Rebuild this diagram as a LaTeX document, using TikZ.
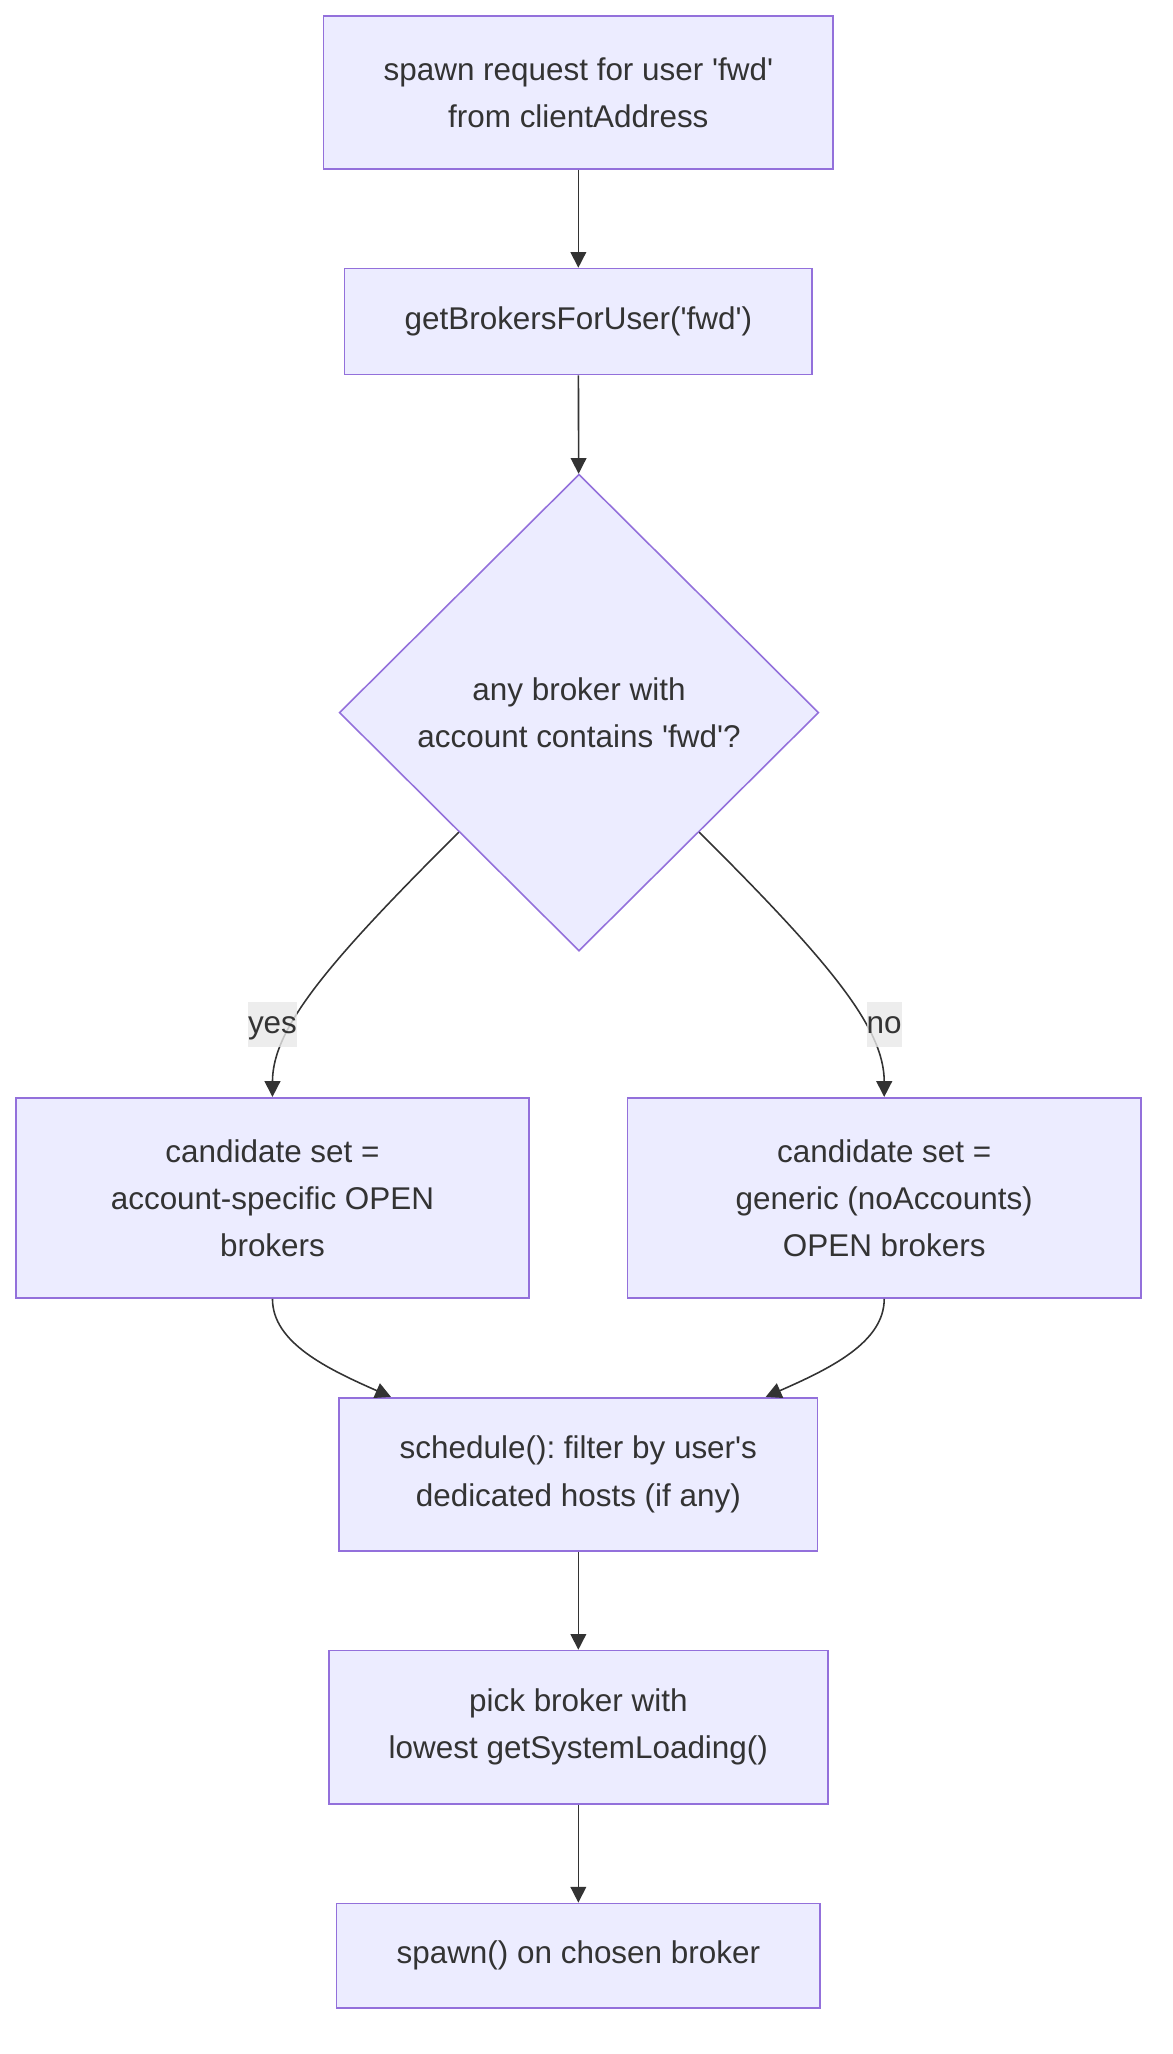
\documentclass[tikz,border=0pt]{standalone}
\usepackage{fontspec}
\setmainfont{Liberation Sans}
\usetikzlibrary{arrows.meta, shapes.geometric}
\definecolor{nodefill}{HTML}{ECECFF}
\definecolor{nodeline}{HTML}{9370DB}
\definecolor{inkgray}{HTML}{333333}
\definecolor{labelfill}{HTML}{E8E8E8}
\newcommand{\q}{\textquotesingle}
\frenchspacing
\tikzset{
	flow chart/.cd,
	link/.style = {
		draw = inkgray,
		line width = 0.6pt,
		-{Triangle[length = 6pt, width = 6pt]}
	},
}

\begin{document}
\begin{tikzpicture}[
		x = 0.5pt, y = -0.5pt,
		every node/.style = {
			text = inkgray,
			font = \fontsize{12}{18}\selectfont
		},
		process/.style = {
			draw = nodeline,
			fill = nodefill,
			line width = 0.6pt,
			align = center,
			inner sep = 0pt
		},
		decision/.style = {
			process,
			diamond,
			minimum width = 183pt,
			minimum height = 182pt
		},
		edgelabel/.style = {
			fill = labelfill,
			fill opacity = 0.8,
			text opacity = 1,
			inner xsep = 0pt,
			inner ysep = 0pt,
			text height = 12pt,
			text depth = 5pt
		}]
		\useasboundingbox (0, 0) rectangle (895, 1568);
		\node[process, minimum width = 194.5pt, minimum height = 58.5pt] (request) at (441.5, 70.5) {spawn request for user \q fwd\q\\from clientAddress};
		\node[process, minimum width = 178.5pt, minimum height = 40.5pt] (getbrokers) at (441.5, 245.5) {getBrokersForUser(\q fwd\q)};
		\node[decision] (anybroker) at (442, 544) {any broker with\\account contains \q fwd\q?};
		\node[process, minimum width = 196pt, minimum height = 76.5pt] (specific) at (208, 914.5) {candidate set =\\account-specific OPEN\\brokers};
		\node[process, minimum width = 196pt, minimum height = 76.5pt] (generic) at (675, 914.5) {candidate set =\\generic (noAccounts)\\OPEN brokers};
		\node[process, minimum width = 182.5pt, minimum height = 58.5pt] (schedule) at (441.5, 1125.5) {schedule(): filter by user\q s\\dedicated hosts (if any)};
		\node[process, minimum width = 190.5pt, minimum height = 58.5pt] (pick) at (441.5, 1318.5) {pick broker with\\lowest getSystemLoading()};
		\node[process, minimum width = 184.5pt, minimum height = 40pt] (spawn) at (441.5, 1493) {spawn() on chosen broker};
		\draw[flow chart/link] (request) -- (getbrokers);
		\draw[flow chart/link] (getbrokers) -- (anybroker);
		\draw[flow chart/link] (anybroker.south west) .. controls (250, 735) and (208, 785) .. (specific.north);
		\draw[flow chart/link] (anybroker.south east) .. controls (634, 735) and (675, 785) .. (generic.north);
		\node[edgelabel] (yes) at (208, 782) {yes};
		\node[edgelabel] (no) at (675, 782) {no};
		\draw[flow chart/link] (specific.south) .. controls (208, 1025) and (250, 1045) .. ([xshift = -71.5pt]schedule.north);
		\draw[flow chart/link] (generic.south) .. controls (675, 1025) and (633, 1045) .. ([xshift = 71.5pt]schedule.north);
		\draw[flow chart/link] (schedule) -- (pick);
		\draw[flow chart/link] (pick) -- (spawn);
	\end{tikzpicture}
\end{document}
